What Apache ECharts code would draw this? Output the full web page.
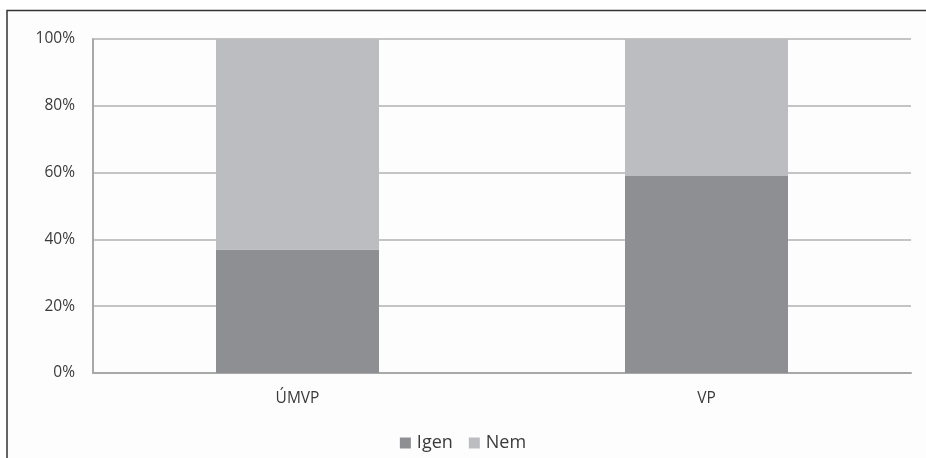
<!DOCTYPE html>
<html>
<head>
<meta charset="utf-8">
<script src="https://cdn.jsdelivr.net/npm/echarts@6/dist/echarts.min.js"></script>
<style>
  html, body { margin: 0; padding: 0; background: #ffffff; }
  #chart { width: 926px; height: 458px; }
</style>
</head>
<body>
<div id="chart"></div>
<script>
// Categories and stacked shares (percent)
const categories = ['ÚMVP', 'VP'];
const igenValues = [37, 59];
const nemValues = [63, 41];
const yTicks = [0, 20, 40, 60, 80, 100];

const chart = echarts.init(document.getElementById('chart'));
const font = '"Open Sans", "Liberation Sans", sans-serif';

chart.setOption({
  backgroundColor: '#ffffff',
  animation: false,
  graphic: [
    {
      type: 'rect',
      shape: { x: 7, y: 10.5, width: 940, height: 470 },
      style: { fill: '#fdfdfd', stroke: '#333333', lineWidth: 1.5 },
      z: -10
    }
  ],
  grid: { left: 93, right: 15, top: 39, bottom: 85, containLabel: false },
  legend: {
    bottom: 1,
    left: 'center',
    itemWidth: 11,
    itemHeight: 11,
    itemGap: 16,
    icon: 'rect',
    textStyle: { fontFamily: font, fontSize: 18, color: '#3a3a3a', padding: [0, 0, 0, 1] },
    data: ['Igen', 'Nem']
  },
  xAxis: {
    type: 'category',
    data: categories,
    axisLine: { show: true, lineStyle: { color: '#a8a8a8', width: 2 } },
    axisTick: { show: false },
    axisLabel: { fontFamily: font, fontSize: 15.5, color: '#3a3a3a', margin: 18 }
  },
  yAxis: {
    type: 'value',
    min: yTicks[0],
    max: yTicks[yTicks.length - 1],
    interval: 20,
    axisLine: { show: true, lineStyle: { color: '#a8a8a8', width: 2 } },
    axisTick: { show: false },
    splitLine: { show: true, lineStyle: { color: '#c4c4c4', width: 2 } },
    axisLabel: { fontFamily: font, fontSize: 15.5, color: '#3a3a3a', margin: 18, formatter: '{value}%' }
  },
  series: [
    {
      name: 'Igen',
      type: 'bar',
      stack: 'total',
      barWidth: 163,
      data: igenValues,
      itemStyle: { color: '#8e8f93' }
    },
    {
      name: 'Nem',
      type: 'bar',
      stack: 'total',
      barWidth: 163,
      data: nemValues,
      itemStyle: { color: '#bcbdc1' }
    }
  ]
});
</script>
</body>
</html>
